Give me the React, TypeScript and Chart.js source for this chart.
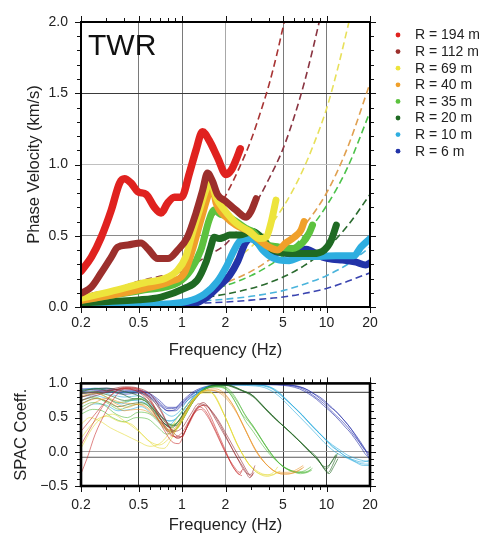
import { useEffect, useRef } from 'react';
import { Chart, registerables } from 'chart.js';

Chart.register(...registerables);

const FONT = '"Liberation Sans", Arial, Helvetica, sans-serif';
const W = 489;
const TOP_H = 362;
const BOT_H = 174;

// ---------- categories ----------
const RADII = ['R = 194 m', 'R = 112 m', 'R = 69 m', 'R = 40 m', 'R = 35 m', 'R = 20 m', 'R = 10 m', 'R = 6 m'];
const COLORS = ['#e0221f', '#9c2f2c', '#ede43c', '#f0a02a', '#5cc23e', '#1f6a23', '#2eaee0', '#2233a8'];
const DASH_COLORS = ['#a83434', '#8a3441', '#e8e05a', '#e0a050', '#4cc24a', '#2a6a2e', '#4ab4dc', '#3a44b0'];
const SPAC_COLORS = [
  'rgba(200,45,45,0.65)', 'rgba(150,40,45,0.65)', 'rgba(228,218,50,0.65)', 'rgba(235,150,45,0.65)',
  'rgba(80,185,60,0.65)', 'rgba(40,105,40,0.7)', 'rgba(40,170,220,0.65)', 'rgba(40,50,170,0.7)'
];

// ---------- tick labels ----------
const FREQ_TICKS = [0.2, 0.3, 0.4, 0.5, 0.6, 0.7, 0.8, 0.9, 1, 2, 3, 4, 5, 6, 7, 8, 9, 10, 20];
const FREQ_LABELED = [0.2, 0.5, 1, 2, 5, 10, 20];
const FREQ_LABELS = ['0.2', '0.5', '1', '2', '5', '10', '20'];
const VEL_TICKS = [0, 0.1, 0.2, 0.3, 0.4, 0.5, 0.6, 0.7, 0.8, 0.9, 1.0, 1.1, 1.2, 1.3, 1.4, 1.5, 1.6, 1.7, 1.8, 1.9, 2.0];
const VEL_LABELED = [0, 0.5, 1.0, 1.5, 2.0];
const VEL_LABELS = ['0.0', '0.5', '1.0', '1.5', '2.0'];
const SPAC_TICKS = [-0.5, -0.4, -0.3, -0.2, -0.1, 0, 0.1, 0.2, 0.3, 0.4, 0.5, 0.6, 0.7, 0.8, 0.9, 1.0];
const SPAC_LABELED = [-0.5, 0, 0.5, 1.0];
const SPAC_LABELS = ['\u22120.5', '0.0', '0.5', '1.0'];
const SPAC_REF_LINES = [0.87, -0.08];

// ---------- phase velocity curves [Hz, km/s] ----------
const vel194 = [[0.2,0.25],[0.236,0.35],[0.276,0.49],[0.324,0.68],[0.37,0.87],[0.4,0.9],[0.444,0.87],[0.494,0.81],[0.565,0.79],[0.644,0.7],[0.716,0.66],[0.796,0.73],[0.885,0.77],[0.99,0.77],[1.126,0.94],[1.25,1.1],[1.386,1.23],[1.54,1.17],[1.76,1.05],[2.02,0.93],[2.19,0.96],[2.36,1.03],[2.53,1.11]];
const vel112 = [[0.2,0.096],[0.236,0.14],[0.276,0.24],[0.324,0.35],[0.358,0.42],[0.422,0.435],[0.52,0.45],[0.58,0.41],[0.678,0.34],[0.8,0.34],[0.935,0.4],[1.09,0.49],[1.25,0.66],[1.39,0.82],[1.5,0.94],[1.63,0.88],[1.76,0.79],[2.02,0.74],[2.36,0.68],[2.78,0.63],[3.0,0.67],[3.26,0.76]];
const vel69 = [[0.2,0.06],[0.324,0.11],[0.55,0.17],[0.76,0.2],[0.935,0.26],[1.06,0.35],[1.18,0.52],[1.32,0.68],[1.46,0.82],[1.58,0.88],[1.72,0.77],[1.97,0.68],[2.36,0.59],[2.92,0.53],[3.43,0.48],[3.82,0.49],[4.13,0.59],[4.47,0.75]];
const vel40 = [[0.2,0.045],[0.55,0.13],[0.84,0.18],[1.04,0.24],[1.18,0.4],[1.35,0.61],[1.54,0.8],[1.63,0.84],[1.72,0.73],[2.02,0.63],[2.36,0.575],[2.92,0.53],[3.43,0.47],[4.02,0.42],[4.58,0.4],[5.23,0.45],[5.98,0.49],[6.66,0.54],[7.0,0.6]];
const vel35 = [[0.2,0.05],[0.55,0.12],[0.935,0.17],[1.15,0.26],[1.35,0.4],[1.54,0.61],[1.67,0.68],[1.85,0.65],[2.02,0.64],[2.36,0.6],[2.78,0.55],[3.08,0.53],[3.62,0.45],[4.71,0.42],[5.82,0.41],[6.82,0.45],[7.6,0.52],[8.0,0.575]];
const vel20 = [[0.2,0.03],[0.5,0.05],[0.716,0.07],[1.04,0.13],[1.28,0.19],[1.46,0.31],[1.58,0.42],[1.67,0.49],[1.81,0.48],[1.96,0.49],[2.13,0.505],[2.5,0.505],[3.08,0.53],[3.53,0.49],[4.24,0.4],[5.82,0.375],[8.0,0.375],[9.66,0.4],[10.8,0.47],[11.7,0.575]];
const vel10 = [[0.2,0.01],[0.5,0.015],[1.09,0.04],[1.43,0.09],[1.76,0.18],[2.02,0.28],[2.3,0.4],[2.55,0.47],[2.92,0.48],[3.26,0.46],[3.62,0.4],[4.24,0.345],[5.52,0.325],[6.82,0.355],[8.9,0.355],[11.6,0.36],[15.5,0.36],[17.3,0.42],[20,0.48]];
const vel6 = [[0.7,0.0],[1.13,0.012],[1.45,0.06],[1.82,0.15],[2.13,0.22],[2.43,0.32],[2.75,0.45],[3.0,0.48],[3.43,0.44],[4.02,0.38],[4.71,0.385],[5.82,0.37],[7.2,0.405],[9.4,0.35],[11,0.335],[12.9,0.33],[16,0.315],[18.7,0.295],[20,0.31]];
const VEL_CURVES = [vel194, vel112, vel69, vel40, vel35, vel20, vel10, vel6];

// ---------- resolution limit (dashed) curves [Hz, km/s] ----------
const lim194 = [[1.6,0.62],[2,0.78],[2.5,0.98],[3,1.17],[3.5,1.37],[4,1.56],[4.5,1.76],[5.1,2.0]];
const lim112 = [[0.2,0.084],[0.35,0.13],[0.5,0.18],[0.7,0.215],[1,0.25],[1.5,0.36],[2,0.44],[3,0.67],[4,0.9],[5,1.11],[6,1.34],[7,1.57],[8,1.8],[8.9,2.0]];
const lim69 = [[2.3,0.33],[3,0.42],[4,0.56],[5,0.7],[6,0.84],[7,0.98],[8,1.12],[10,1.39],[12,1.68],[14.3,2.0]];
const lim40 = [[1.5,0.13],[2,0.17],[3,0.25],[4,0.33],[5,0.41],[7,0.57],[10,0.8],[14,1.12],[20,1.57]];
const lim35 = [[1.5,0.12],[2,0.15],[3,0.22],[4,0.29],[5,0.36],[7,0.5],[10,0.71],[14,0.98],[20,1.37]];
const lim20 = [[1.5,0.07],[2,0.09],[3,0.13],[4,0.17],[5,0.21],[7,0.29],[10,0.41],[14,0.57],[20,0.79]];
const lim10 = [[1.2,0.04],[2,0.055],[3,0.075],[4,0.095],[5,0.115],[7,0.16],[10,0.22],[14,0.3],[20,0.42]];
const lim6 = [[1.2,0.025],[2,0.035],[3,0.048],[4,0.06],[5,0.07],[7,0.095],[10,0.13],[14,0.18],[20,0.24]];
const LIM_CURVES = [lim194, lim112, lim69, lim40, lim35, lim20, lim10, lim6];

// ---------- SPAC coefficient curves [Hz, coeff] ----------
const spac194a = [[0.2,-0.32],[0.22,-0.1],[0.25,0.25],[0.3,0.6],[0.35,0.82],[0.4,0.92],[0.47,0.9],[0.55,0.8],[0.65,0.55],[0.75,0.32],[0.85,0.15],[0.95,0.12],[1.05,0.3],[1.2,0.55],[1.35,0.62],[1.5,0.52],[1.7,0.3],[1.9,0.08],[2.1,-0.1],[2.3,-0.25],[2.5,-0.33],[2.6,-0.28]];
const spac194b = [[0.2,0.1],[0.24,0.4],[0.28,0.65],[0.33,0.85],[0.4,0.94],[0.5,0.92],[0.6,0.78],[0.7,0.5],[0.8,0.28],[0.9,0.22],[1.0,0.28],[1.15,0.5],[1.3,0.66],[1.45,0.6],[1.65,0.38],[1.85,0.15],[2.05,-0.05],[2.3,-0.22],[2.5,-0.3],[2.65,-0.25]];
const spac194c = [[0.2,0.3],[0.25,0.55],[0.3,0.75],[0.36,0.9],[0.45,0.93],[0.55,0.85],[0.65,0.62],[0.75,0.4],[0.85,0.25],[0.95,0.2],[1.1,0.38],[1.25,0.6],[1.4,0.68],[1.55,0.55],[1.75,0.3],[2.0,0.02],[2.2,-0.18],[2.45,-0.32],[2.6,-0.35]];
const spac112a = [[0.2,0.8],[0.3,0.88],[0.4,0.93],[0.5,0.9],[0.6,0.8],[0.7,0.62],[0.8,0.4],[0.9,0.25],[1.0,0.22],[1.1,0.4],[1.25,0.62],[1.4,0.72],[1.6,0.6],[1.8,0.45],[2.0,0.28],[2.3,0.05],[2.6,-0.15],[2.85,-0.3],[3.0,-0.36],[3.15,-0.3]];
const spac112b = [[0.2,0.85],[0.3,0.9],[0.4,0.95],[0.5,0.93],[0.62,0.82],[0.72,0.6],[0.82,0.35],[0.92,0.2],[1.02,0.25],[1.15,0.48],[1.3,0.65],[1.45,0.68],[1.65,0.55],[1.85,0.38],[2.1,0.15],[2.4,-0.08],[2.7,-0.25],[2.95,-0.38],[3.1,-0.32]];
const spac112c = [[0.2,0.75],[0.28,0.85],[0.38,0.92],[0.5,0.88],[0.6,0.75],[0.7,0.55],[0.8,0.38],[0.9,0.3],[1.0,0.35],[1.15,0.55],[1.3,0.7],[1.5,0.66],[1.7,0.48],[1.9,0.3],[2.15,0.1],[2.45,-0.12],[2.75,-0.3],[3.0,-0.33],[3.2,-0.2]];
const spac69a = [[0.2,0.05],[0.24,0.35],[0.28,0.5],[0.33,0.55],[0.4,0.45],[0.5,0.3],[0.6,0.15],[0.7,0.1],[0.8,0.18],[0.9,0.3],[1.0,0.45],[1.15,0.7],[1.3,0.85],[1.5,0.9],[1.7,0.8],[1.85,0.65],[2.0,0.5],[2.2,0.3],[2.45,0.08],[2.7,-0.08],[3.0,-0.22],[3.4,-0.32],[3.9,-0.36],[4.4,-0.32],[4.8,-0.28]];
const spac69b = [[0.2,0.2],[0.25,0.45],[0.3,0.52],[0.36,0.45],[0.45,0.4],[0.55,0.22],[0.65,0.08],[0.75,0.05],[0.85,0.2],[0.95,0.4],[1.1,0.62],[1.25,0.8],[1.45,0.88],[1.65,0.85],[1.8,0.72],[1.95,0.55],[2.15,0.35],[2.4,0.12],[2.65,-0.05],[2.95,-0.2],[3.3,-0.3],[3.8,-0.34],[4.3,-0.3],[4.6,-0.22]];
const spac69c = [[0.2,0.4],[0.23,0.5],[0.27,0.45],[0.32,0.35],[0.4,0.25],[0.5,0.15],[0.6,0.08],[0.7,0.12],[0.8,0.25],[0.9,0.45],[1.05,0.65],[1.2,0.78],[1.4,0.86],[1.6,0.86],[1.75,0.75],[1.9,0.6],[2.1,0.4],[2.35,0.15],[2.6,-0.02],[2.9,-0.18],[3.3,-0.28],[3.7,-0.33],[4.2,-0.34],[4.6,-0.3]];
const spac40a = [[0.2,0.6],[0.25,0.72],[0.3,0.78],[0.35,0.7],[0.42,0.65],[0.5,0.7],[0.6,0.62],[0.7,0.45],[0.8,0.32],[0.9,0.35],[1.0,0.5],[1.15,0.72],[1.3,0.85],[1.5,0.9],[1.8,0.88],[2.0,0.82],[2.3,0.65],[2.6,0.42],[3.0,0.15],[3.4,-0.05],[3.9,-0.2],[4.5,-0.3],[5.2,-0.33],[6.0,-0.3],[6.8,-0.24]];
const spac40b = [[0.2,0.7],[0.26,0.78],[0.32,0.72],[0.4,0.6],[0.48,0.62],[0.56,0.6],[0.66,0.5],[0.76,0.38],[0.86,0.3],[0.96,0.42],[1.1,0.65],[1.25,0.8],[1.45,0.9],[1.7,0.92],[1.95,0.86],[2.2,0.72],[2.5,0.5],[2.85,0.25],[3.2,0.03],[3.7,-0.15],[4.2,-0.26],[4.8,-0.32],[5.6,-0.32],[6.5,-0.27],[7,-0.22]];
const spac40c = [[0.2,0.82],[0.25,0.86],[0.3,0.8],[0.38,0.72],[0.46,0.7],[0.55,0.66],[0.65,0.52],[0.75,0.36],[0.85,0.28],[0.95,0.36],[1.08,0.58],[1.22,0.76],[1.4,0.88],[1.6,0.9],[1.85,0.85],[2.1,0.74],[2.4,0.56],[2.75,0.32],[3.1,0.1],[3.5,-0.08],[4.0,-0.22],[4.6,-0.3],[5.4,-0.3],[6.2,-0.26],[6.9,-0.2]];
const spac35a = [[0.2,0.75],[0.25,0.8],[0.3,0.72],[0.37,0.62],[0.45,0.68],[0.55,0.7],[0.65,0.55],[0.75,0.38],[0.85,0.3],[0.95,0.38],[1.1,0.6],[1.25,0.8],[1.45,0.92],[1.7,0.96],[2.0,0.94],[2.2,0.85],[2.5,0.68],[2.8,0.5],[3.1,0.38],[3.5,0.2],[4.0,0.02],[4.5,-0.12],[5.0,-0.22],[5.8,-0.28],[6.8,-0.3],[7.5,-0.28],[8.0,-0.24]];
const spac35b = [[0.2,0.65],[0.24,0.72],[0.29,0.68],[0.35,0.55],[0.42,0.5],[0.5,0.58],[0.6,0.55],[0.7,0.42],[0.8,0.3],[0.9,0.32],[1.0,0.45],[1.15,0.68],[1.35,0.88],[1.6,0.95],[1.9,0.96],[2.15,0.9],[2.4,0.76],[2.7,0.56],[3.0,0.42],[3.4,0.25],[3.9,0.05],[4.4,-0.1],[4.9,-0.2],[5.6,-0.27],[6.6,-0.32],[7.4,-0.3],[7.9,-0.27]];
const spac35c = [[0.2,0.85],[0.25,0.88],[0.3,0.8],[0.36,0.72],[0.44,0.75],[0.52,0.78],[0.62,0.65],[0.72,0.5],[0.82,0.4],[0.92,0.42],[1.05,0.58],[1.2,0.78],[1.4,0.9],[1.65,0.95],[1.95,0.93],[2.2,0.82],[2.45,0.65],[2.75,0.45],[3.1,0.3],[3.6,0.1],[4.1,-0.05],[4.6,-0.15],[5.2,-0.24],[6,-0.3],[7,-0.28],[7.8,-0.22]];
const spac35d = [[0.2,0.55],[0.24,0.62],[0.28,0.6],[0.33,0.5],[0.4,0.44],[0.48,0.5],[0.58,0.48],[0.68,0.36],[0.78,0.26],[0.88,0.3],[0.98,0.42],[1.12,0.64],[1.3,0.84],[1.55,0.94],[1.85,0.95],[2.1,0.88],[2.35,0.72],[2.6,0.55],[2.9,0.44],[3.3,0.28],[3.8,0.08],[4.3,-0.08],[4.8,-0.18],[5.5,-0.26],[6.4,-0.3],[7.2,-0.3],[7.8,-0.26]];
const spac20a = [[0.2,0.88],[0.25,0.92],[0.3,0.9],[0.38,0.85],[0.45,0.78],[0.55,0.75],[0.65,0.6],[0.75,0.42],[0.85,0.35],[0.95,0.45],[1.1,0.65],[1.3,0.85],[1.5,0.95],[1.8,0.98],[2.2,0.96],[2.5,0.91],[3.1,0.82],[3.5,0.7],[4.0,0.58],[4.6,0.45],[5.2,0.35],[6.0,0.22],[6.8,0.12],[7.6,0.02],[8.5,-0.07],[9.3,-0.2],[10.0,-0.25],[10.8,-0.15],[11.6,-0.04]];
const spac20b = [[0.2,0.8],[0.26,0.86],[0.32,0.82],[0.4,0.75],[0.5,0.78],[0.6,0.68],[0.7,0.5],[0.8,0.38],[0.9,0.4],[1.0,0.52],[1.2,0.75],[1.4,0.9],[1.7,0.97],[2.0,0.97],[2.4,0.92],[2.8,0.86],[3.2,0.78],[3.7,0.64],[4.3,0.5],[5.0,0.38],[5.8,0.26],[6.6,0.14],[7.4,0.04],[8.2,-0.06],[9.0,-0.16],[9.8,-0.22],[10.6,-0.18],[11.4,-0.08],[12,-0.02]];
const spac20c = [[0.2,0.9],[0.3,0.93],[0.4,0.88],[0.5,0.82],[0.6,0.72],[0.7,0.55],[0.8,0.42],[0.9,0.38],[1.0,0.48],[1.15,0.68],[1.35,0.86],[1.6,0.96],[2.0,0.98],[2.6,0.9],[3.0,0.84],[3.4,0.74],[3.9,0.6],[4.5,0.47],[5.3,0.33],[6.2,0.2],[7.0,0.08],[7.8,-0.02],[8.8,-0.12],[9.6,-0.24],[10.3,-0.3],[11,-0.2],[11.8,-0.05]];
const spac20d = [[0.2,0.7],[0.25,0.78],[0.3,0.74],[0.36,0.66],[0.44,0.7],[0.52,0.72],[0.62,0.62],[0.72,0.46],[0.82,0.36],[0.92,0.42],[1.05,0.6],[1.25,0.8],[1.5,0.94],[1.9,0.98],[2.3,0.95],[2.7,0.88],[3.0,0.84],[3.6,0.68],[4.2,0.54],[4.9,0.4],[5.6,0.29],[6.4,0.17],[7.2,0.06],[8.0,-0.04],[8.9,-0.14],[9.7,-0.26],[10.4,-0.32],[11.2,-0.22],[12,-0.1]];
const spac10a = [[0.2,0.75],[0.25,0.82],[0.3,0.78],[0.38,0.7],[0.45,0.75],[0.55,0.72],[0.65,0.6],[0.75,0.48],[0.85,0.45],[0.95,0.52],[1.1,0.7],[1.3,0.88],[1.5,0.95],[2.0,0.98],[3.0,0.98],[4.0,0.95],[4.6,0.87],[5.2,0.77],[6.0,0.65],[6.8,0.54],[7.8,0.4],[8.9,0.28],[10,0.16],[11,0.07],[12.3,0.0],[13.6,-0.07],[15.5,-0.12],[17.6,-0.15],[20,-0.12]];
const spac10b = [[0.2,0.85],[0.26,0.88],[0.32,0.84],[0.4,0.8],[0.5,0.82],[0.6,0.7],[0.7,0.55],[0.8,0.45],[0.9,0.48],[1.0,0.58],[1.2,0.8],[1.4,0.92],[1.7,0.97],[2.5,0.99],[3.5,0.97],[4.2,0.92],[4.8,0.83],[5.5,0.72],[6.3,0.6],[7.2,0.48],[8.2,0.35],[9.3,0.23],[10.5,0.12],[11.8,0.03],[13,-0.04],[14.5,-0.1],[16.5,-0.16],[18.5,-0.18],[20,-0.18]];
const spac10c = [[0.2,0.6],[0.25,0.7],[0.3,0.68],[0.36,0.6],[0.44,0.62],[0.52,0.66],[0.62,0.55],[0.72,0.42],[0.82,0.4],[0.92,0.5],[1.05,0.65],[1.25,0.84],[1.45,0.94],[1.8,0.98],[2.8,0.97],[3.7,0.94],[4.4,0.86],[5.0,0.76],[5.8,0.62],[6.6,0.5],[7.5,0.38],[8.5,0.26],[9.6,0.14],[10.8,0.04],[12,-0.03],[13.5,-0.08],[15.5,-0.14],[18,-0.2],[20,-0.2]];
const spac10d = [[0.2,0.9],[0.25,0.93],[0.3,0.9],[0.38,0.86],[0.46,0.88],[0.55,0.84],[0.65,0.72],[0.75,0.58],[0.85,0.52],[0.95,0.58],[1.1,0.76],[1.3,0.9],[1.6,0.97],[2.2,0.99],[3.2,0.98],[3.9,0.96],[4.5,0.9],[5.1,0.8],[5.8,0.68],[6.6,0.56],[7.5,0.43],[8.6,0.3],[9.8,0.19],[11,0.1],[12.5,0.02],[14,-0.05],[16,-0.1],[18,-0.13],[20,-0.15]];
const spac6a = [[0.2,0.88],[0.3,0.9],[0.4,0.86],[0.5,0.88],[0.6,0.82],[0.7,0.7],[0.8,0.6],[0.9,0.62],[1.0,0.7],[1.2,0.85],[1.5,0.95],[2.0,0.98],[3.0,0.99],[4.5,0.99],[6.0,0.97],[7.0,0.93],[8.0,0.86],[9.0,0.8],[10,0.72],[11,0.64],[12,0.56],[13,0.48],[14,0.4],[15,0.32],[16,0.24],[17,0.16],[18,0.08],[19,0.0],[20,-0.06]];
const spac6b = [[0.2,0.92],[0.3,0.93],[0.4,0.9],[0.5,0.9],[0.6,0.85],[0.7,0.75],[0.8,0.65],[0.9,0.65],[1.0,0.74],[1.2,0.88],[1.5,0.96],[2.0,0.99],[3.5,0.99],[5.0,0.98],[6.5,0.95],[7.5,0.9],[8.5,0.82],[9.5,0.74],[10.5,0.66],[11.5,0.6],[12.5,0.52],[13.5,0.44],[14.5,0.36],[15.5,0.27],[16.5,0.18],[17.5,0.1],[18.5,0.03],[19.3,-0.05],[20,-0.12]];
const spac6c = [[0.2,0.85],[0.3,0.88],[0.4,0.84],[0.5,0.86],[0.6,0.8],[0.7,0.68],[0.8,0.6],[0.9,0.6],[1.0,0.68],[1.2,0.82],[1.5,0.93],[2.0,0.97],[3.0,0.98],[5.0,0.98],[6.0,0.96],[7.0,0.91],[8.0,0.83],[9.0,0.75],[10,0.67],[11,0.58],[12.5,0.47],[14,0.36],[15.5,0.24],[17,0.13],[18.5,0.02],[20,-0.02]];
const spac6d = [[0.2,0.9],[0.3,0.92],[0.4,0.88],[0.5,0.89],[0.6,0.84],[0.7,0.72],[0.8,0.63],[0.9,0.64],[1.0,0.72],[1.2,0.86],[1.5,0.95],[2.0,0.98],[3.0,0.99],[4.5,0.98],[5.5,0.96],[6.5,0.92],[7.5,0.85],[8.5,0.77],[9.5,0.68],[10.5,0.6],[11.5,0.52],[12.5,0.44],[13.5,0.36],[14.5,0.29],[15.5,0.21],[16.5,0.13],[17.5,0.05],[18.5,-0.03],[20,-0.1]];
const SPAC_GROUPS = [
  [spac194a, spac194b, spac194c], [spac112a, spac112b, spac112c], [spac69a, spac69b, spac69c],
  [spac40a, spac40b, spac40c], [spac35a, spac35b, spac35c, spac35d], [spac20a, spac20b, spac20c, spac20d],
  [spac10a, spac10b, spac10c, spac10d], [spac6a, spac6b, spac6c, spac6d]
];

// ---------- helpers ----------
const near = (v: number, list: number[]) => list.findIndex((m) => Math.abs(m - v) < 1e-6);
const toXY = (a: number[][]) => a.map(([x, y]) => ({ x, y }));

const frameTicks = {
  id: 'frameTicks',
  afterDatasetsDraw(chart: any, _args: any, opts: any) {
    const { ctx, chartArea } = chart;
    const { left, right, top, bottom } = chartArea;
    const xs = chart.scales.x;
    const ys = chart.scales.y;
    ctx.save();
    ctx.strokeStyle = '#111';
    ctx.lineWidth = 1;
    ctx.beginPath();
    for (const v of FREQ_TICKS) {
      const px = Math.round(xs.getPixelForValue(v)) + 0.5;
      const len = near(v, FREQ_LABELED) >= 0 ? 6 : 4;
      ctx.moveTo(px, top); ctx.lineTo(px, top - len);
      ctx.moveTo(px, bottom); ctx.lineTo(px, bottom + len);
    }
    for (const v of opts.yTicks as number[]) {
      const py = Math.round(ys.getPixelForValue(v)) + 0.5;
      const len = near(v, opts.yMajor) >= 0 ? 6 : 4;
      ctx.moveTo(left, py); ctx.lineTo(left - len, py);
      ctx.moveTo(right, py); ctx.lineTo(right + len, py);
    }
    ctx.stroke();
    ctx.lineWidth = opts.frameWidth;
    ctx.strokeStyle = '#000';
    ctx.strokeRect(left, top, right - left, bottom - top);
    ctx.restore();
  },
  afterDraw(chart: any, _args: any, opts: any) {
    if (!opts.decor) return;
    const { ctx, chartArea } = chart;
    ctx.save();
    ctx.fillStyle = '#111';
    ctx.font = `30px ${FONT}`;
    ctx.textBaseline = 'alphabetic';
    ctx.textAlign = 'left';
    ctx.fillText('TWR', chartArea.left + 7, chartArea.top + 33);
    ctx.font = `14px ${FONT}`;
    ctx.textBaseline = 'middle';
    RADII.forEach((label, i) => {
      const y = 35 + i * 16.6;
      ctx.beginPath();
      ctx.fillStyle = COLORS[i];
      ctx.arc(398, y, 2.4, 0, Math.PI * 2);
      ctx.fill();
      ctx.fillStyle = '#222';
      ctx.fillText(label, 415, y + 0.5);
    });
    ctx.restore();
  }
};

function xScale(height: number, labelPad: number, titlePad: number, gridColors: (v: number) => string) {
  return {
    type: 'logarithmic' as const,
    min: 0.2,
    max: 20,
    afterBuildTicks: (s: any) => { s.ticks = FREQ_TICKS.map((value) => ({ value })); },
    afterFit: (s: any) => { s.height = height; },
    ticks: {
      autoSkip: false,
      maxRotation: 0,
      padding: labelPad,
      color: '#222',
      font: { family: FONT, size: 14 },
      callback: (v: any) => { const i = near(Number(v), FREQ_LABELED); return i >= 0 ? FREQ_LABELS[i] : ''; }
    },
    grid: { drawTicks: false, lineWidth: 1, color: (c: any) => gridColors(c.tick ? c.tick.value : 0) },
    border: { display: false },
    title: { display: true, text: 'Frequency (Hz)', color: '#222', font: { family: FONT, size: 16.5 }, padding: { top: 0, bottom: titlePad } }
  };
}

function yScale(min: number, max: number, ticks: number[], majors: number[], labels: string[], title: string, titlePad: number, gridColors: (v: number) => string) {
  return {
    type: 'linear' as const,
    min,
    max,
    afterBuildTicks: (s: any) => { s.ticks = ticks.map((value) => ({ value })); },
    afterFit: (s: any) => { s.width = 81; },
    ticks: {
      autoSkip: false,
      padding: 13,
      color: '#222',
      font: { family: FONT, size: 14 },
      callback: (v: any) => { const i = near(Number(v), majors); return i >= 0 ? labels[i] : ''; }
    },
    grid: { drawTicks: false, lineWidth: 1, color: (c: any) => gridColors(c.tick ? c.tick.value : 0) },
    border: { display: false },
    title: { display: true, text: title, color: '#222', font: { family: FONT, size: 16.5 }, padding: { top: titlePad, bottom: 0 } }
  };
}

function topConfig(): any {
  const datasets: any[] = [];
  VEL_CURVES.forEach((curve, i) => {
    datasets.push({
      data: toXY(curve), borderColor: COLORS[i], borderWidth: i === 0 ? 7.5 : 7, pointRadius: 0,
      borderCapStyle: 'round', borderJoinStyle: 'round', cubicInterpolationMode: 'monotone',
      clip: 1, order: i
    });
  });
  LIM_CURVES.forEach((curve, i) => {
    datasets.push({
      data: toXY(curve), borderColor: DASH_COLORS[i], borderWidth: 1.6, borderDash: [7, 4], pointRadius: 0,
      cubicInterpolationMode: 'monotone', clip: 0, order: 20 + i
    });
  });
  const vGrid = (v: number) => (near(v, [0.5, 1, 5, 10]) >= 0 ? '#7a7a7a' : near(v, [2]) >= 0 ? '#a8a8a8' : 'rgba(0,0,0,0)');
  const hGrid = (v: number) => (near(v, [0.5]) >= 0 ? '#8a8a8a' : near(v, [1.0]) >= 0 ? '#c0c0c0' : near(v, [1.5]) >= 0 ? '#3a3a3a' : 'rgba(0,0,0,0)');
  return {
    type: 'line',
    data: { datasets },
    options: {
      responsive: false, animation: false, devicePixelRatio: 1, events: [],
      layout: { padding: { left: 0, right: W - 370, top: 22, bottom: 0 } },
      scales: {
        x: xScale(TOP_H - 307, 8, 2, vGrid),
        y: yScale(0, 2, VEL_TICKS, VEL_LABELED, VEL_LABELS, 'Phase Velocity (km/s)', 25, hGrid)
      },
      plugins: {
        legend: { display: false }, tooltip: { enabled: false },
        frameTicks: { yTicks: VEL_TICKS, yMajor: VEL_LABELED, frameWidth: 2, decor: true }
      }
    },
    plugins: [frameTicks]
  };
}

function botConfig(): any {
  const datasets: any[] = [];
  SPAC_REF_LINES.forEach((c) => {
    datasets.push({ data: toXY([[0.2, c], [20, c]]), borderColor: '#5a5a5a', borderWidth: 1.2, pointRadius: 0, order: 100 });
  });
  SPAC_GROUPS.forEach((group, gi) => {
    group.forEach((curve) => {
      datasets.push({
        data: toXY(curve), borderColor: SPAC_COLORS[gi], borderWidth: 0.9, pointRadius: 0,
        cubicInterpolationMode: 'monotone', order: 10 + gi
      });
    });
  });
  const vGrid = (v: number) => (near(v, [0.5, 1, 5, 10]) >= 0 ? '#3a3a3a' : near(v, [2]) >= 0 ? '#a8a8a8' : 'rgba(0,0,0,0)');
  const hGrid = (v: number) => (near(v, [0]) >= 0 ? '#a0a0a0' : 'rgba(0,0,0,0)');
  return {
    type: 'line',
    data: { datasets },
    options: {
      responsive: false, animation: false, devicePixelRatio: 1, events: [],
      layout: { padding: { left: 0, right: W - 370, top: 17, bottom: 0 } },
      scales: {
        x: xScale(BOT_H - 124, 11, 1, vGrid),
        y: yScale(-0.5, 1, SPAC_TICKS, SPAC_LABELED, SPAC_LABELS, 'SPAC Coeff.', 12, hGrid)
      },
      plugins: {
        legend: { display: false }, tooltip: { enabled: false },
        frameTicks: { yTicks: SPAC_TICKS, yMajor: SPAC_LABELED, frameWidth: 2.6, decor: false }
      }
    },
    plugins: [frameTicks]
  };
}

export default function App() {
  const topRef = useRef<HTMLCanvasElement>(null);
  const botRef = useRef<HTMLCanvasElement>(null);
  useEffect(() => {
    const c1 = new Chart(topRef.current as HTMLCanvasElement, topConfig());
    const c2 = new Chart(botRef.current as HTMLCanvasElement, botConfig());
    return () => { c1.destroy(); c2.destroy(); };
  }, []);
  return (
    <div style={{ position: 'absolute', left: 0, top: 0, width: W, height: 536, background: '#fff', overflow: 'hidden' }}>
      <canvas ref={topRef} width={W} height={TOP_H} style={{ position: 'absolute', left: 0, top: 0, width: W, height: TOP_H }} />
      <canvas ref={botRef} width={W} height={BOT_H} style={{ position: 'absolute', left: 0, top: TOP_H, width: W, height: BOT_H }} />
    </div>
  );
}
